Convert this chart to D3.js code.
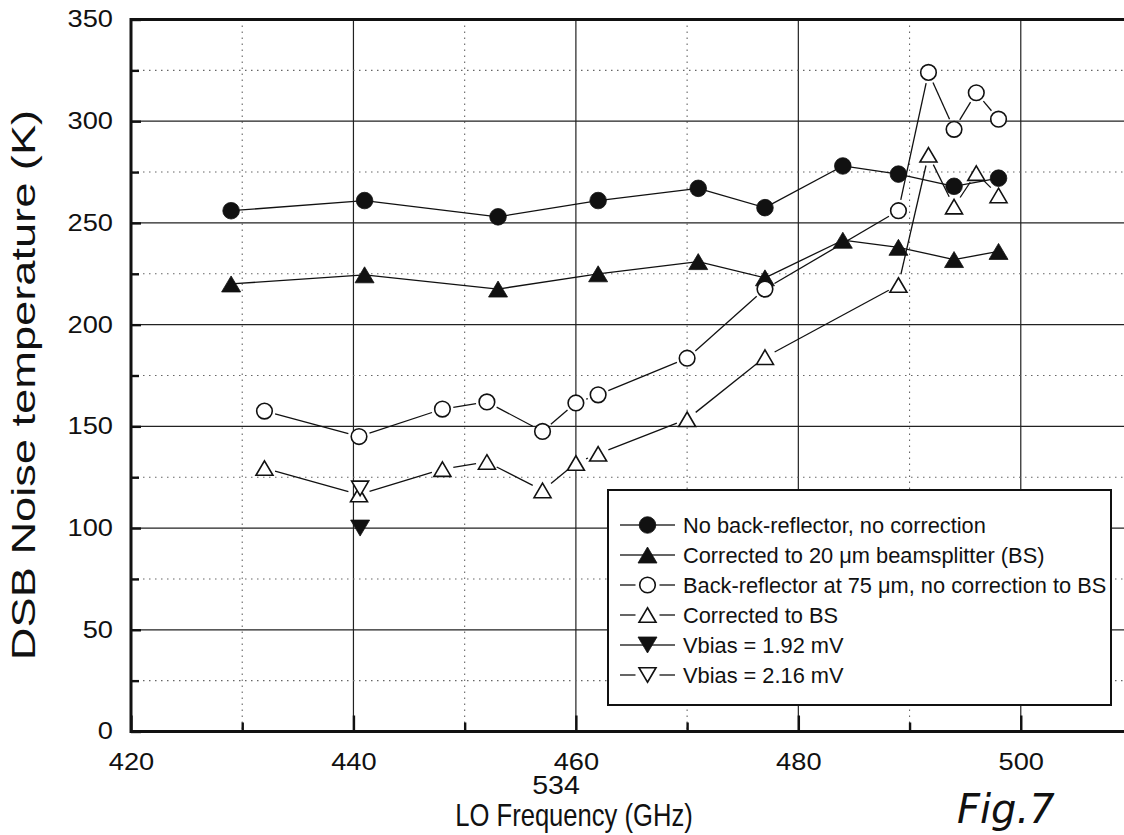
<!DOCTYPE html>
<html>
<head>
<script src="https://d3js.org/d3.v7.min.js"></script>
<style>
    body { margin: 0; background: #fff; }
    svg { display: block; font-family: "Liberation Sans", Arial, sans-serif; }
    .grid-major { stroke: #222; stroke-width: 1.2; }
    .grid-minor { stroke: #666; stroke-width: 1.1; stroke-dasharray: 1.5,4.5; }
    .frame { stroke: #111; stroke-width: 3; fill: none; }
    .axis path { display: none; }
    .axis line { stroke: #111; stroke-width: 2.4; }
    .axis text { font-size: 23.3px; fill: #111; }
    .series-line { stroke: #111; stroke-width: 1.3; fill: none; }
    .legend text { font-size: 21.8px; fill: #111; }
</style>
</head>
<body>
<svg width="1124" height="835"></svg>
<script>
    // LO frequency (GHz) for the two series without back-reflector
    const freqNoBR = [429, 441, 453, 462, 471, 477, 484, 489, 494, 498];
    const tempNoBR = [256, 261, 253, 261, 267, 257.5, 278, 274, 268, 272];
    const tempCorr20 = [220, 224.5, 217.5, 225, 231, 223, 241.5, 238, 232, 236];

    // back-reflector at 75 um
    const freqBR = [432, 440.5, 448, 452, 457, 460, 462, 470, 477, 489, 491.7, 494, 496, 498];
    const tempBR = [157.5, 145, 158.5, 162, 147.5, 161.5, 165.5, 183.5, 217.5, 256, 324, 296, 314, 301];
    const tempBRCorr = [129.5, 116.5, 129, 132.5, 118.5, 132, 136.5, 153.5, 184, 219.5, 283.5, 258, 274.5, 263.5];

    // single bias points
    const freqVbias = [440.6];
    const tempV192 = [100];
    const tempV216 = [119.5];

    const legendLabels = [
        "No back-reflector, no correction",
        "Corrected to 20 \u03bcm beamsplitter (BS)",
        "Back-reflector at 75 \u03bcm, no correction to BS",
        "Corrected to BS",
        "Vbias = 1.92 mV",
        "Vbias = 2.16 mV"
    ];

    const xMajor = [420, 440, 460, 480, 500];
    const xMinor = [430, 450, 470, 490];
    const yMajor = [0, 50, 100, 150, 200, 250, 300, 350];
    const yMinor = [25, 75, 125, 175, 225, 275, 325];

    const series = [
        {f: freqNoBR, t: tempNoBR, shape: "circle", filled: true},
        {f: freqNoBR, t: tempCorr20, shape: "up", filled: true},
        {f: freqBR, t: tempBR, shape: "circle", filled: false},
        {f: freqBR, t: tempBRCorr, shape: "up", filled: false},
        {f: freqVbias, t: tempV192, shape: "down", filled: true},
        {f: freqVbias, t: tempV216, shape: "down", filled: false}
    ];

    const pL = 131, pR = 1132, pT = 19.5, pB = 731.5;
    const x = d3.scaleLinear().domain([420, 510]).range([pL, pR]);
    const y = d3.scaleLinear().domain([0, 350]).range([pB, pT]);

    const svg = d3.select("svg");

    // grid
    const grid = svg.append("g");
    grid.selectAll(".vmin").data(xMinor.concat([510])).enter().append("line")
        .attr("class", "grid-minor")
        .attr("x1", d => x(d)).attr("x2", d => x(d))
        .attr("y1", pT).attr("y2", pB);
    grid.selectAll(".vmaj").data(xMajor.slice(1)).enter().append("line")
        .attr("class", "grid-major")
        .attr("x1", d => x(d)).attr("x2", d => x(d))
        .attr("y1", pT).attr("y2", pB);
    grid.selectAll(".hmin").data(yMinor).enter().append("line")
        .attr("class", "grid-minor")
        .attr("x1", pL).attr("x2", pR)
        .attr("y1", d => y(d)).attr("y2", d => y(d));
    grid.selectAll(".hmaj").data(yMajor.slice(1, -1)).enter().append("line")
        .attr("class", "grid-major")
        .attr("x1", pL).attr("x2", pR)
        .attr("y1", d => y(d)).attr("y2", d => y(d));

    // marker shapes, centred on 0,0
    function markerPath(shape, filled) {
        if (shape === "circle") {
            const r = filled ? 8.3 : 7.8;
            return d3.symbol(d3.symbolCircle, Math.PI * r * r)();
        }
        const w = filled ? 19 : 17, h = filled ? 16 : 14.5;
        const s = shape === "up" ? 1 : -1;
        return "M0," + (-s * h / 2) + "L" + (w / 2) + "," + (s * h / 2) +
            "L" + (-w / 2) + "," + (s * h / 2) + "Z";
    }

    function drawMarker(g, shape, filled, cx, cy) {
        g.append("path")
            .attr("d", markerPath(shape, filled))
            .attr("transform", "translate(" + cx + "," + cy + ")")
            .attr("fill", filled ? "#111" : "#fff")
            .attr("stroke", "#111")
            .attr("stroke-width", filled ? 0.8 : 1.6);
    }

    // series lines, open markers leave a small gap
    const plot = svg.append("g");
    series.forEach(function(s) {
        const pts = s.f.map((f, i) => [x(f), y(s.t[i])]);
        const gap = s.filled ? 0 : 11;
        for (let i = 0; i < pts.length - 1; i++) {
            const [x1, y1] = pts[i], [x2, y2] = pts[i + 1];
            const len = Math.hypot(x2 - x1, y2 - y1);
            if (len <= 2 * gap) continue;
            const ux = (x2 - x1) / len, uy = (y2 - y1) / len;
            plot.append("line")
                .attr("class", "series-line")
                .attr("x1", x1 + ux * gap).attr("y1", y1 + uy * gap)
                .attr("x2", x2 - ux * gap).attr("y2", y2 - uy * gap);
        }
    });
    series.forEach(function(s) {
        s.f.forEach((f, i) => drawMarker(plot, s.shape, s.filled, x(f), y(s.t[i])));
    });

    // legend
    const lg = svg.append("g").attr("class", "legend");
    lg.append("rect")
        .attr("x", 608).attr("y", 490).attr("width", 503).attr("height", 215)
        .attr("fill", "#fff").attr("stroke", "#111").attr("stroke-width", 2);
    series.forEach(function(s, i) {
        const cy = 525 + i * 30, cx = 647.5;
        const gap = s.filled ? 0 : 12;
        lg.append("line").attr("class", "series-line")
            .attr("x1", 620).attr("x2", cx - gap).attr("y1", cy).attr("y2", cy);
        lg.append("line").attr("class", "series-line")
            .attr("x1", cx + gap).attr("x2", 675).attr("y1", cy).attr("y2", cy);
        drawMarker(lg, s.shape, s.filled, cx, cy);
        lg.append("text")
            .attr("x", 683).attr("y", cy + 7.8)
            .text(legendLabels[i]);
    });

    // axes
    const sx = 1.17;
    const yAxis = svg.append("g").attr("class", "axis")
        .attr("transform", "translate(" + pL + ",0)")
        .call(d3.axisLeft(y).tickValues(yMajor).tickSizeInner(-10).tickSizeOuter(0).tickPadding(15.4));
    yAxis.selectAll("text").attr("transform", "scale(" + sx + ",1)");
    svg.append("g").attr("class", "axis")
        .attr("transform", "translate(" + pL + ",0)")
        .call(d3.axisLeft(y).tickValues(yMinor).tickSizeInner(-8).tickSizeOuter(0).tickFormat(""));

    const xAxis = svg.append("g").attr("class", "axis")
        .attr("transform", "translate(0," + pB + ")")
        .call(d3.axisBottom(x).tickValues(xMajor).tickSizeInner(-16).tickSizeOuter(0).tickPadding(22));
    xAxis.selectAll("text").attr("transform", "scale(" + sx + ",1)");
    svg.append("g").attr("class", "axis")
        .attr("transform", "translate(0," + pB + ")")
        .call(d3.axisBottom(x).tickValues(xMinor).tickSizeInner(-9).tickSizeOuter(0).tickFormat(""));

    // frame: left, bottom, top (right edge falls outside the picture)
    svg.append("path").attr("class", "frame")
        .attr("d", "M" + pR + "," + pT + "H" + pL + "V" + pB + "H" + pR);

    // titles
    svg.append("text")
        .attr("transform", "translate(35,385) rotate(-90) scale(1.33,1)")
        .attr("text-anchor", "middle")
        .style("font-size", "34px").attr("fill", "#111")
        .text("DSB Noise temperature (K)");

    svg.append("text")
        .attr("transform", "translate(556,794) scale(1.1,1)")
        .attr("text-anchor", "middle")
        .style("font-size", "26px").attr("fill", "#111")
        .text("534");

    svg.append("text")
        .attr("transform", "translate(574,826) scale(0.8,1)")
        .attr("text-anchor", "middle")
        .style("font-size", "32px").attr("fill", "#111")
        .text("LO Frequency (GHz)");

    svg.append("text")
        .attr("x", 957).attr("y", 823)
        .style("font-size", "40px").style("font-style", "italic")
        .style("font-family", "'DejaVu Sans', sans-serif")
        .attr("fill", "#111")
        .text("Fig.7");
</script>
</body>
</html>
